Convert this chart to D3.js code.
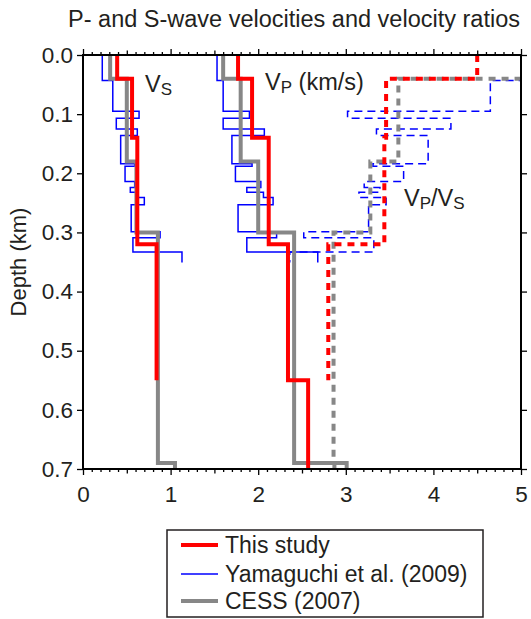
<!DOCTYPE html>
<html>
<head>
<meta charset="utf-8">
<script src="https://cdn.jsdelivr.net/npm/d3@7"></script>
<style>
  html, body { margin: 0; padding: 0; background: #fff; }
  svg { display: block; font-family: "Liberation Sans", Arial, Helvetica, sans-serif; }
</style>
</head>
<body>
<svg id="chart" width="531" height="619"></svg>
<script>
// ---------------- DATA ----------------
// This study (layer top/bottom depths in km)
const thisVsDepths   = [0, 0.04, 0.14, 0.32, 0.55];
const thisVs         = [0.39, 0.56, 0.62, 0.84];
const thisVpDepths   = [0, 0.04, 0.14, 0.32, 0.55, 0.70];
const thisVp         = [1.77, 1.93, 2.12, 2.34, 2.57];
const thisRatioDepths= [0, 0.04, 0.14, 0.32, 0.55];
const thisRatio      = [4.50, 3.46, 3.44, 2.80];

// Yamaguchi et al. (2009)
const yamaDepths = [0, 0.043, 0.095, 0.107, 0.125, 0.136, 0.184, 0.188, 0.214, 0.224, 0.232, 0.241, 0.253, 0.299, 0.309, 0.333, 0.351];
const yamaVs     = [0.22, 0.34, 0.64, 0.38, 0.62, 0.43, 0.59, 0.48, 0.59, 0.54, 0.63, 0.70, 0.55, 0.88, 0.57, 1.13];
const yamaVp     = [1.53, 1.60, 1.90, 1.60, 2.07, 1.70, 1.93, 1.74, 2.03, 1.87, 2.06, 2.17, 1.77, 2.21, 1.87, 2.68];
const yamaRatio  = [7.00, 4.65, 3.02, 4.20, 3.35, 3.94, 3.31, 3.66, 3.21, 3.39, 3.15, 3.46, 3.26, 2.52, 3.32, 2.36];

// CESS (2007)
const cessDepths = [0, 0.04, 0.18, 0.30, 0.69, 0.70];
const cessVs     = [0.31, 0.50, 0.61, 0.855, 1.05];
const cessVp     = [1.60, 1.80, 2.00, 2.41, 3.01];
const cessRatio  = [5.33, 3.60, 3.28, 2.86, 2.87];

const xTicks = [0, 1, 2, 3, 4, 5];
const yTicks = [0.0, 0.1, 0.2, 0.3, 0.4, 0.5, 0.6, 0.7];
const legendLabels = ["This study", "Yamaguchi et al. (2009)", "CESS (2007)"];
const titleText = "P- and S-wave velocities and velocity ratios";

// ---------------- LAYOUT ----------------
const W = 531, H = 619;
const plot = { left: 83, right: 521, top: 55, bottom: 469 };
const RED = "#ff0000", BLUE = "#0000ff", GRAY = "#878787";
const TXT = "#231f20";

const svg = d3.select("#chart");
const x = d3.scaleLinear().domain([0, 5]).range([plot.left, plot.right]);
const y = d3.scaleLinear().domain([0, 0.7]).range([plot.top, plot.bottom]);

svg.append("defs").append("clipPath").attr("id", "clip")
  .append("rect")
  .attr("x", plot.left).attr("y", plot.top)
  .attr("width", plot.right - plot.left).attr("height", plot.bottom - plot.top);

function stepPoints(depths, values) {
  const pts = [];
  values.forEach((v, i) => {
    pts.push([v, depths[i]]);
    pts.push([v, depths[i + 1]]);
  });
  return pts;
}
const line = d3.line().x(p => x(p[0])).y(p => y(p[1]));

const g = svg.append("g").attr("clip-path", "url(#clip)");
function drawProfile(depths, values, color, width, dash) {
  g.append("path")
    .attr("d", line(stepPoints(depths, values)))
    .attr("fill", "none")
    .attr("stroke", color)
    .attr("stroke-width", width)
    .attr("stroke-linejoin", "miter")
    .attr("stroke-dasharray", dash || null);
}

// Yamaguchi (blue) bottom
drawProfile(yamaDepths, yamaVs, BLUE, 1.5);
drawProfile(yamaDepths, yamaVp, BLUE, 1.5);
drawProfile(yamaDepths, yamaRatio, BLUE, 1.5, "8,5");
// CESS (gray)
drawProfile(cessDepths, cessVs, GRAY, 4);
drawProfile(cessDepths, cessVp, GRAY, 4);
drawProfile(cessDepths, cessRatio, GRAY, 4, "7,6");
// This study (red) on top
drawProfile(thisVsDepths, thisVs, RED, 4);
drawProfile(thisVpDepths, thisVp, RED, 4);
drawProfile(thisRatioDepths, thisRatio, RED, 4, "7,6");

// ---------------- AXES ----------------
const minorX = d3.range(0, 51).map(i => i / 10).filter(v => Math.abs(v - Math.round(v)) > 1e-9 && Math.abs(v * 2 - Math.round(v * 2)) > 1e-9);
const halfX = [0.5, 1.5, 2.5, 3.5, 4.5];

function styleAxis(sel) {
  sel.select(".domain").remove();
  sel.selectAll("line").attr("stroke", "#000").attr("stroke-width", 1.3);
  sel.selectAll("text").attr("fill", TXT).attr("font-size", 22.5)
    .attr("font-family", "'Liberation Sans', Arial, sans-serif");
}

// bottom
svg.append("g").attr("transform", `translate(0,${plot.bottom})`)
  .call(d3.axisBottom(x).tickValues(minorX).tickSize(3).tickFormat("")).call(styleAxis);
svg.append("g").attr("transform", `translate(0,${plot.bottom})`)
  .call(d3.axisBottom(x).tickValues(halfX).tickSize(4.5).tickFormat("")).call(styleAxis);
svg.append("g").attr("transform", `translate(0,${plot.bottom})`)
  .call(d3.axisBottom(x).tickValues(xTicks).tickSize(6).tickPadding(11).tickFormat(d3.format("d"))).call(styleAxis);
// top
svg.append("g").attr("transform", `translate(0,${plot.top})`)
  .call(d3.axisTop(x).tickValues(minorX).tickSize(3).tickFormat("")).call(styleAxis);
svg.append("g").attr("transform", `translate(0,${plot.top})`)
  .call(d3.axisTop(x).tickValues(halfX).tickSize(4.5).tickFormat("")).call(styleAxis);
svg.append("g").attr("transform", `translate(0,${plot.top})`)
  .call(d3.axisTop(x).tickValues(xTicks).tickSize(6).tickFormat("")).call(styleAxis);
// left
svg.append("g").attr("transform", `translate(${plot.left},0)`)
  .call(d3.axisLeft(y).tickValues(yTicks).tickSize(6).tickPadding(4).tickFormat(d3.format(".1f"))).call(styleAxis);
// right
svg.append("g").attr("transform", `translate(${plot.right},0)`)
  .call(d3.axisRight(y).tickValues(yTicks).tickSize(6).tickFormat("")).call(styleAxis);

// frame
svg.append("rect")
  .attr("x", plot.left).attr("y", plot.top)
  .attr("width", plot.right - plot.left).attr("height", plot.bottom - plot.top)
  .attr("fill", "none").attr("stroke", "#000").attr("stroke-width", 2);

// ---------------- TEXT ----------------
svg.append("text").attr("x", 294).attr("y", 27).attr("text-anchor", "middle")
  .attr("font-size", 23.5).attr("fill", TXT).text(titleText);

svg.append("text").attr("transform", `translate(26,${(plot.top + plot.bottom) / 2}) rotate(-90)`)
  .attr("text-anchor", "middle").attr("font-size", 22).attr("fill", TXT).text("Depth (km)");

function subLabel(px, py, main, sub, rest) {
  const t = svg.append("text").attr("x", px).attr("y", py).attr("font-size", 23.5).attr("fill", TXT);
  main.forEach((m, i) => {
    t.append("tspan").text(m);
    t.append("tspan").attr("font-size", 17).attr("dy", 3).text(sub[i]);
    t.append("tspan").attr("dy", -3).text(rest[i]);
  });
}
subLabel(145, 92, ["V"], ["S"], [""]);
subLabel(265, 90, ["V"], ["P"], [" (km/s)"]);
subLabel(404, 206, ["V", "V"], ["P", "S"], ["/", ""]);

// ---------------- LEGEND ----------------
const leg = svg.append("g");
leg.append("rect").attr("x", 167).attr("y", 530).attr("width", 316).attr("height", 87)
  .attr("fill", "#fff").attr("stroke", TXT).attr("stroke-width", 1.5);
const legColors = [RED, BLUE, GRAY];
const legWidths = [4, 1.5, 4];
const legY = [545, 574, 601];
legendLabels.forEach((lab, i) => {
  leg.append("line").attr("x1", 181).attr("x2", 218).attr("y1", legY[i]).attr("y2", legY[i])
    .attr("stroke", legColors[i]).attr("stroke-width", legWidths[i]);
  leg.append("text").attr("x", 225).attr("y", legY[i] + 8).attr("font-size", 23)
    .attr("fill", TXT).text(lab);
});
</script>
</body>
</html>
